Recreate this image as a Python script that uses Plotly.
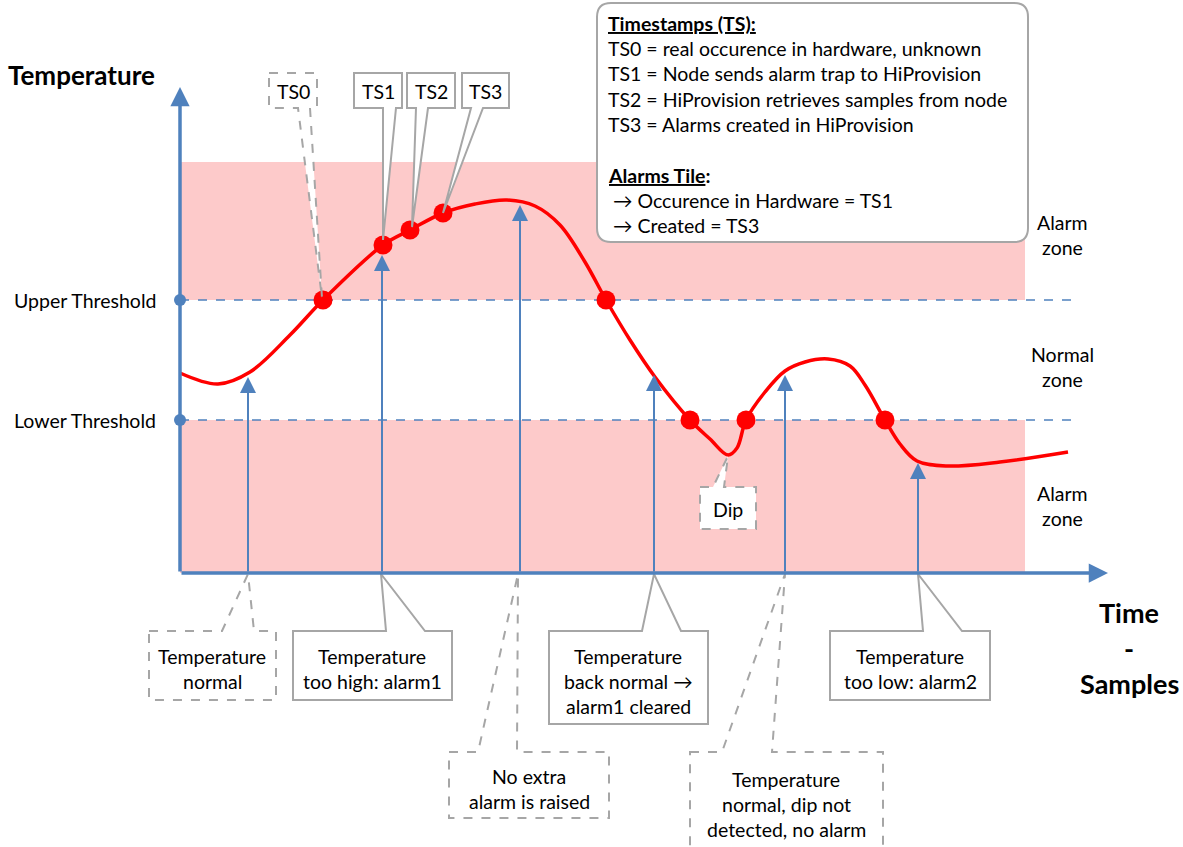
import plotly.graph_objects as go

# ---------------- data ----------------
time = [0, 38, 70, 110, 143, 203, 230, 263, 295, 327, 355, 380, 405, 426, 450, 475,
        510, 530, 548, 557, 566, 585, 605, 625, 648, 670, 685, 705, 720, 737, 767, 820, 888]
temperature = [200, 189, 201, 238, 273, 328, 343, 360, 369, 373, 367, 348, 311, 273, 233, 196,
               153, 134, 118, 125, 153, 181, 202, 211, 214, 207, 188, 153, 129, 112, 107, 111, 121]

event_time = [143, 203, 230, 263, 426, 510, 566, 705]
event_temp = [273, 328, 343, 360, 273, 153, 153, 153]

sample_time = [68, 202, 340, 474, 605, 738]
sample_temp = [196, 318, 368, 198, 198, 110]

upper_threshold = 273
lower_threshold = 153
zone_top = 411
zone_end = 845
x_axis_end = 928
y_axis_end = 486
threshold_end = 900

threshold_labels = ["Upper Threshold", "Lower Threshold"]
zone_labels = [["Alarm", "zone"], ["Normal", "zone"], ["Alarm", "zone"]]

legend_lines = [
    "<b><u>Timestamps (TS):</u></b>",
    "TS0 = real occurence in hardware, unknown",
    "TS1 = Node sends alarm trap to HiProvision",
    "TS2 = HiProvision retrieves samples from node",
    "TS3 = Alarms created in HiProvision",
    "<b><u>Alarms Tile</u>:</b>",
    " \u2192 Occurence in Hardware = TS1",
    " \u2192 Created = TS3",
]

# ---------------- layout helpers (pixel -> data) ----------------
OX, OY = 180, 573
def X(px):
    return px - OX
def Y(py):
    return OY - py

BLUE = "#4f81bd"
RED = "#ff0000"
PINK = "#fdcaca"
GREY = "#a6a6a6"
FONT = "Lato, Carlito, Calibri, sans-serif"
FS = 19.5

fig = go.Figure()

shapes = []
annotations = []

# pink alarm zones
shapes.append(dict(type="rect", xref="x", yref="y", x0=0, x1=zone_end, y0=upper_threshold, y1=zone_top,
                   fillcolor=PINK, line=dict(width=0), layer="below"))
shapes.append(dict(type="rect", xref="x", yref="y", x0=0, x1=zone_end, y0=0, y1=lower_threshold,
                   fillcolor=PINK, line=dict(width=0), layer="below"))
# threshold lines
for thr in (upper_threshold, lower_threshold):
    shapes.append(dict(type="line", xref="x", yref="y", x0=0, x1=threshold_end, y0=thr, y1=thr,
                       line=dict(color=BLUE, width=1.3, dash="dash"), layer="below"))

# curve
fig.add_trace(go.Scatter(x=time, y=temperature, mode="lines",
                         line=dict(color=RED, width=3.5, shape="spline", smoothing=1.0),
                         hoverinfo="skip"))
# events
fig.add_trace(go.Scatter(x=event_time, y=event_temp, mode="markers",
                         marker=dict(color=RED, size=19), hoverinfo="skip"))
# threshold dots on y axis
fig.add_trace(go.Scatter(x=[0, 0], y=[upper_threshold, lower_threshold], mode="markers",
                         marker=dict(color=BLUE, size=12), hoverinfo="skip"))


def arrow(x0, y0, x1, y1, width, size=1.0):
    annotations.append(dict(x=x1, y=y1, ax=x0, ay=y0, xref="x", yref="y", axref="x", ayref="y",
                            text="", showarrow=True, arrowhead=2, arrowsize=size,
                            arrowwidth=width, arrowcolor=BLUE, standoff=0))

# axes
arrow(0, 0, 0, y_axis_end, 3.5, 1.1)
arrow(0, 0, x_axis_end, 0, 3.5, 1.1)
# sample arrows
for t, v in zip(sample_time, sample_temp):
    arrow(t, 0, t, v, 2, 1.6)


def callout(box, wedge, tip, dashed, where):
    l, t, r, b = box
    a1, a2 = wedge
    tx, ty = tip
    if where == "bottom":
        pts = [(l, t), (r, t), (r, b), (a2, b), (tx, ty), (a1, b), (l, b)]
    else:
        pts = [(l, t), (a1, t), (tx, ty), (a2, t), (r, t), (r, b), (l, b)]
    path = "M " + " L ".join(f"{X(px)},{Y(py)}" for px, py in pts) + " Z"
    shapes.append(dict(type="path", xref="x", yref="y", path=path, fillcolor="white",
                       line=dict(color=GREY, width=2, dash="dash" if dashed else "solid"),
                       layer="above"))


def text(px, py, s, size=FS, bold=False, anchor="center"):
    annotations.append(dict(x=X(px), y=Y(py), xref="x", yref="y", text=f"<b>{s}</b>" if bold else s,
                            showarrow=False, xanchor=anchor, yanchor="middle",
                            font=dict(family=FONT, size=size, color="black")))


def lines(cx, y0, items, size=FS, step=25):
    for i, s in enumerate(items):
        text(cx, y0 + i * step, s, size)

# TS callouts (top)
callout((269, 73, 317, 108), (298, 310), (322, 298), True, "bottom")
callout((354, 73, 402, 108), (383, 396), (383, 240), False, "bottom")
callout((407, 73, 455, 108), (416, 428), (412, 227), False, "bottom")
callout((462, 73, 509, 108), (471, 483), (443, 213), False, "bottom")
text(293, 91, "TS0"); text(378, 91, "TS1"); text(431, 91, "TS2"); text(485, 91, "TS3")

# Dip callout
callout((700, 487, 756, 529), (713, 724), (728, 456), True, "top")
text(728, 509, "Dip")

# bottom callouts
callout((149, 631, 276, 700), (222, 254), (248, 574), True, "top")
lines(212, 656, ["Temperature", "normal"])
callout((293, 631, 452, 700), (386, 425), (381, 574), False, "top")
lines(372, 656, ["Temperature", "too high: alarm1"])
callout((449, 752, 609, 818), (478, 517), (518, 574), True, "top")
lines(529, 776, ["No extra", "alarm is raised"])
callout((549, 631, 708, 724), (642, 681), (654, 574), False, "top")
lines(628, 656, ["Temperature", "back normal \u2192", "alarm1 cleared"])
callout((690, 752, 883, 870), (722, 772), (785, 574), True, "top")
lines(786, 779, ["Temperature", "normal, dip not", "detected, no alarm"])
callout((830, 631, 990, 700), (923, 962), (918, 574), False, "top")
lines(910, 656, ["Temperature", "too low: alarm2"])

# legend box (rounded)
lx0, ly0, lx1, ly1, rr = 597, 3, 1028, 242, 14
legend_path = (f"M {X(lx0 + rr)},{Y(ly0)} L {X(lx1 - rr)},{Y(ly0)} Q {X(lx1)},{Y(ly0)} {X(lx1)},{Y(ly0 + rr)} "
               f"L {X(lx1)},{Y(ly1 - rr)} Q {X(lx1)},{Y(ly1)} {X(lx1 - rr)},{Y(ly1)} "
               f"L {X(lx0 + rr)},{Y(ly1)} Q {X(lx0)},{Y(ly1)} {X(lx0)},{Y(ly1 - rr)} "
               f"L {X(lx0)},{Y(ly0 + rr)} Q {X(lx0)},{Y(ly0)} {X(lx0 + rr)},{Y(ly0)} Z")
shapes.append(dict(type="path", xref="x", yref="y", path=legend_path, fillcolor="white",
                   line=dict(color=GREY, width=2), layer="above"))
legend_y = [23, 48, 73, 99, 124, 175, 200, 225]
for s, py in zip(legend_lines, legend_y):
    text(606, py, s, FS, anchor="left")

# axis titles and labels
text(6, 75, "Temperature", 26, bold=True, anchor="left")
text(158, 300, threshold_labels[0], FS, anchor="right")
text(158, 420, threshold_labels[1], FS, anchor="right")
lines(1062, 222, zone_labels[0])
lines(1062, 354, zone_labels[1])
lines(1062, 493, zone_labels[2])
text(1129, 612, "Time", 27, bold=True)
text(1129, 648, "-", 27, bold=True)
text(1129, 683, "Samples", 27, bold=True)

fig.update_layout(
    width=1183, height=847,
    margin=dict(l=0, r=0, t=0, b=0),
    paper_bgcolor="white", plot_bgcolor="white",
    showlegend=False,
    xaxis=dict(range=[X(0), X(1183)], visible=False, fixedrange=True),
    yaxis=dict(range=[Y(847), Y(0)], visible=False, fixedrange=True),
    shapes=shapes, annotations=annotations,
)

fig.write_html("out.html", config={"displayModeBar": False},
               post_script="document.body.style.margin='0';document.body.style.overflow='hidden';")
